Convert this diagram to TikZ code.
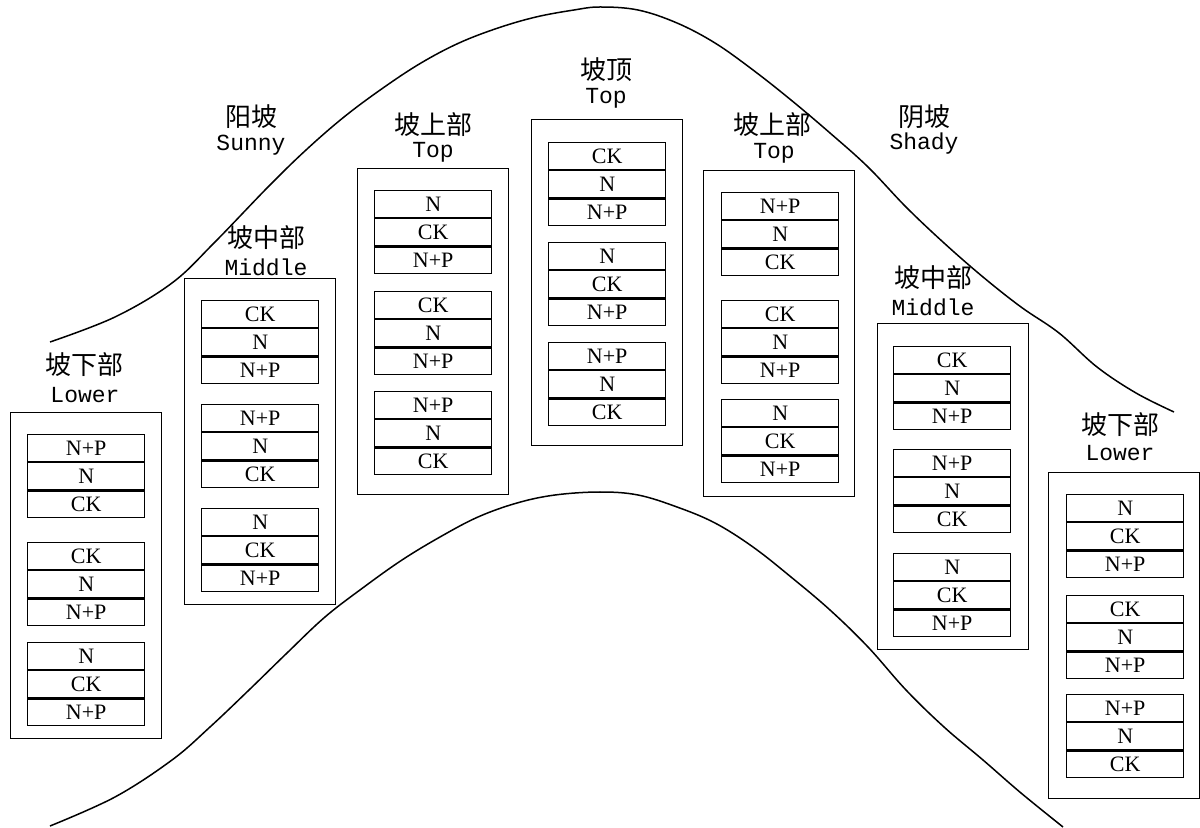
\documentclass[tikz,border=0pt]{standalone}
\usepackage{fontspec}
\setmainfont{Liberation Serif}
\newfontfamily\cjk{Noto Sans CJK SC}
\newfontfamily\monof{Liberation Mono}
\tikzset{
  cellbox/.style={draw, line width=0.7pt, rectangle, minimum width=58.5pt, minimum height=13.33pt, inner sep=0pt, anchor=north west, font=\fontsize{11}{12}\selectfont},
  zonebox/.style={draw, line width=0.7pt, rectangle, minimum width=75.5pt, minimum height=163pt, inner sep=0pt, anchor=north west},
  cnlabel/.style={inner sep=0pt, font=\cjk\fontsize{13}{14}\selectfont},
  enlabel/.style={inner sep=0pt, font=\monof\fontsize{11.5}{12}\selectfont},
  slope/.style={line width=0.75pt}
}
\newcommand\cellgrp[6]{%
  \node[cellbox] (#1a) at (#2,#3) {#4};
  \node[cellbox] (#1b) at (#1a.south west) {#5};
  \node[cellbox] (#1c) at (#1b.south west) {#6};
}
\begin{document}
\begin{tikzpicture}[x=0.5pt,y=-0.5pt]
\useasboundingbox (0,0) rectangle (1200,828);
% hill outlines
\draw[slope] plot[smooth, tension=0.6] coordinates {(50,342) (115,317) (172,283) (214,243) (268,187) (306,150) (344,117) (383,88) (421,63) (459,43) (498,28) (536,17) (574,10) (600,7) (638,10) (677,23) (715,43) (753,70) (791,100) (830,133) (868,167) (906,207) (944,243) (983,277) (1021,307) (1059,333) (1097,367) (1136,393) (1174,412)};
\draw[slope] plot[smooth, tension=0.6] coordinates {(50,826) (115,797) (172,760) (210,727) (249,690) (287,653) (325,617) (364,587) (402,560) (440,537) (478,517) (517,503) (555,495) (600,492) (638,495) (677,507) (715,523) (753,547) (791,577) (830,610) (868,647) (906,690) (944,727) (983,760) (1021,793) (1063,827)};
% side labels
\node[cnlabel] (sunnycn) at (251,117) {阳坡};
\node[enlabel] (sunnyen) at (251,145) {Sunny};
\node[cnlabel] (shadycn) at (924,117) {阴坡};
\node[enlabel] (shadyen) at (924,144) {Shady};
% zone 1: lower (sunny)
\node[cnlabel] (l1cn) at (85,365) {坡下部};
\node[enlabel] (l1en) at (85,395) {Lower};
\node[zonebox] (z1) at (10,412) {};
\cellgrp{z1g1}{27}{434}{N+P}{N}{CK}
\cellgrp{z1g2}{27}{542}{CK}{N}{N+P}
\cellgrp{z1g3}{27}{642}{N}{CK}{N+P}
% zone 2: middle (sunny)
\node[cnlabel] (l2cn) at (266,238) {坡中部};
\node[enlabel] (l2en) at (266,267) {Middle};
\node[zonebox] (z2) at (184,278) {};
\cellgrp{z2g1}{201}{300}{CK}{N}{N+P}
\cellgrp{z2g2}{201}{404}{N+P}{N}{CK}
\cellgrp{z2g3}{201}{508}{N}{CK}{N+P}
% zone 3: upper (sunny)
\node[cnlabel] (l3cn) at (433,125) {坡上部};
\node[enlabel] (l3en) at (433,152) {Top};
\node[zonebox] (z3) at (357,168) {};
\cellgrp{z3g1}{374}{190}{N}{CK}{N+P}
\cellgrp{z3g2}{374}{291}{CK}{N}{N+P}
\cellgrp{z3g3}{374}{391}{N+P}{N}{CK}
% zone 4: top
\node[cnlabel] (l4cn) at (606,70) {坡顶};
\node[enlabel] (l4en) at (606,98) {Top};
\node[zonebox] (z4) at (531,119) {};
\cellgrp{z4g1}{548}{142}{CK}{N}{N+P}
\cellgrp{z4g2}{548}{242}{N}{CK}{N+P}
\cellgrp{z4g3}{548}{342}{N+P}{N}{CK}
% zone 5: upper (shady)
\node[cnlabel] (l5cn) at (772,125) {坡上部};
\node[enlabel] (l5en) at (774,153) {Top};
\node[zonebox] (z5) at (703,170) {};
\cellgrp{z5g1}{721}{192}{N+P}{N}{CK}
\cellgrp{z5g2}{721}{300}{CK}{N}{N+P}
\cellgrp{z5g3}{721}{399}{N}{CK}{N+P}
% zone 6: middle (shady)
\node[cnlabel] (l6cn) at (933,278) {坡中部};
\node[enlabel] (l6en) at (933,307) {Middle};
\node[zonebox] (z6) at (877,323) {};
\cellgrp{z6g1}{893}{346}{CK}{N}{N+P}
\cellgrp{z6g2}{893}{449}{N+P}{N}{CK}
\cellgrp{z6g3}{893}{553}{N}{CK}{N+P}
% zone 7: lower (shady)
\node[cnlabel] (l7cn) at (1120,425) {坡下部};
\node[enlabel] (l7en) at (1120,453) {Lower};
\node[zonebox] (z7) at (1048,472) {};
\cellgrp{z7g1}{1066}{494}{N}{CK}{N+P}
\cellgrp{z7g2}{1066}{595}{CK}{N}{N+P}
\cellgrp{z7g3}{1066}{694}{N+P}{N}{CK}
\end{tikzpicture}
\end{document}
